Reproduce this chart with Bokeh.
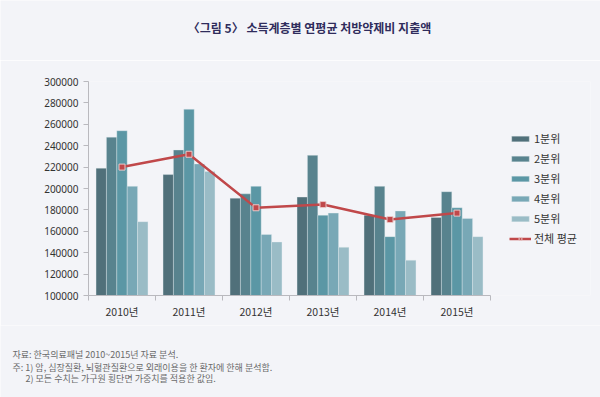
import numpy as np
from bokeh.plotting import figure
from bokeh.layouts import column
from bokeh.models import (ColumnDataSource, FixedTicker, Legend, LegendItem, Label, Range1d)
from bokeh.transform import dodge
from bokeh.embed import file_html
from bokeh.resources import INLINE

years = ["2010년", "2011년", "2012년", "2013년", "2014년", "2015년"]
q1 = [219000, 213000, 191000, 192000, 175000, 173000]
q2 = [248000, 236000, 195000, 231000, 202000, 197000]
q3 = [254000, 274000, 202000, 175000, 155000, 182000]
q4 = [202000, 223000, 157000, 177000, 179000, 172000]
q5 = [169000, 216000, 150000, 145000, 133000, 155000]
avg = [220000, 232000, 182000, 185000, 171000, 177000]
series_names = ["1분위", "2분위", "3분위", "4분위", "5분위"]
avg_name = "전체 평균"
colors = ["#50707a", "#58838e", "#5b97a5", "#78a8b6", "#9abcc6"]
y_ticks = list(range(100000, 300001, 20000))

title_text = "〈그림 5〉 소득계층별 연평균 처방약제비 지출액"
notes = ["자료: 한국의료패널 2010~2015년 자료 분석.",
         "주: 1) 암, 심장질환, 뇌혈관질환으로 외래이용을 한 환자에 한해 분석함.",
         "2) 모든 수치는 가구원 횡단면 가중치를 적용한 값임."]

BG = "#f3f4f8"
KR = "Noto Sans CJK KR"
W = 600


def blank(height):
    f = figure(width=W, height=height, output_backend="svg", toolbar_location=None,
               x_axis_location=None, y_axis_location=None,
               x_range=Range1d(0, W), y_range=Range1d(0, height),
               min_border=0, background_fill_color=BG, border_fill_color=BG,
               outline_line_color=None, frame_align=False)
    f.grid.visible = False
    return f


# ---- title strip
top = blank(60)
top.add_layout(Label(x=309, y=33, x_units="screen", y_units="screen", text=title_text,
                     text_font=KR, text_font_size="12px", text_font_style="bold",
                     text_color="#2f2c5c", text_align="center", text_baseline="middle"))

# ---- main chart
n = len(years)
centers = np.arange(n) + 0.5
src = ColumnDataSource(dict(x=centers, q1=q1, q2=q2, q3=q3, q4=q4, q5=q5, avg=avg))

p = figure(width=W, height=265, output_backend="svg", toolbar_location=None,
           x_range=Range1d(0, n * 502 / 402), y_range=Range1d(100000, 300000),
           min_border_left=88, min_border_right=10, min_border_top=21, min_border_bottom=30,
           background_fill_color=BG, border_fill_color=BG, outline_line_color=None,
           frame_align=False)
p.grid.visible = False

bw = 0.155
offsets = [-2 * bw, -bw, 0, bw, 2 * bw]
renderers = []
for key, off, c in zip(["q1", "q2", "q3", "q4", "q5"], offsets, colors):
    r = p.vbar(x=dodge("x", off), top=key, bottom=100000, width=bw, source=src,
               fill_color=c, line_color="#e6eef0", line_width=0.6, line_alpha=0.6)
    renderers.append(r)

lr = p.line(x="x", y="avg", source=src, line_color="#c0484a", line_width=2.5)
mr = p.scatter(x="x", y="avg", source=src, marker="square", size=6,
               fill_color="#c0484a", line_color="#e9c6c6", line_width=1)

xa = p.xaxis[0]
xa.bounds = (0, n)
xa.ticker = FixedTicker(ticks=list(centers), minor_ticks=list(range(n + 1)))
xa.major_label_overrides = {float(c): y for c, y in zip(centers, years)}
xa.major_tick_line_color = None
xa.major_tick_out = 6
xa.minor_tick_out = 5
xa.minor_tick_in = 0
xa.minor_tick_line_color = "#b9b9be"
xa.axis_line_color = "#b9b9be"
xa.major_label_text_font = KR
xa.major_label_text_font_size = "10.5px"
xa.major_label_text_color = "#333333"
xa.major_label_standoff = 2

ya = p.yaxis[0]
ya.ticker = FixedTicker(ticks=y_ticks)
ya.formatter.use_scientific = False
ya.major_tick_out = 5
ya.major_tick_in = 0
ya.minor_tick_line_color = None
ya.major_tick_line_color = "#b9b9be"
ya.axis_line_color = "#b9b9be"
ya.major_label_text_font = "Noto Sans"
ya.major_label_text_font_size = "10px"
ya.major_label_text_color = "#333333"
ya.major_label_standoff = 5

items = [LegendItem(label=s, renderers=[r]) for s, r in zip(series_names, renderers)]
items.append(LegendItem(label=avg_name, renderers=[lr, mr]))
legend = Legend(items=items, location=(421, 47), background_fill_alpha=0,
                border_line_color=None, glyph_width=22, glyph_height=7,
                label_text_font=KR, label_text_font_size="11px",
                label_text_color="#333333", spacing=0, label_standoff=3,
                padding=0, margin=0, label_height=20)
p.add_layout(legend, "center")

# ---- notes strip
bottom = blank(72)
note_x = [12, 12, 25]
note_y = [43, 30, 19]
for t, nx, ny in zip(notes, note_x, note_y):
    bottom.add_layout(Label(x=nx, y=ny, x_units="screen", y_units="screen", text=t,
                            text_font=KR, text_font_size="9px",
                            text_color="#6a6a6a", text_align="left", text_baseline="middle"))

layout = column(top, p, bottom, spacing=0)
html = file_html(layout, INLINE)
html = html.replace("<body>", '<body style="background:%s">' % BG, 1)
open("out.html", "w").write(html)
